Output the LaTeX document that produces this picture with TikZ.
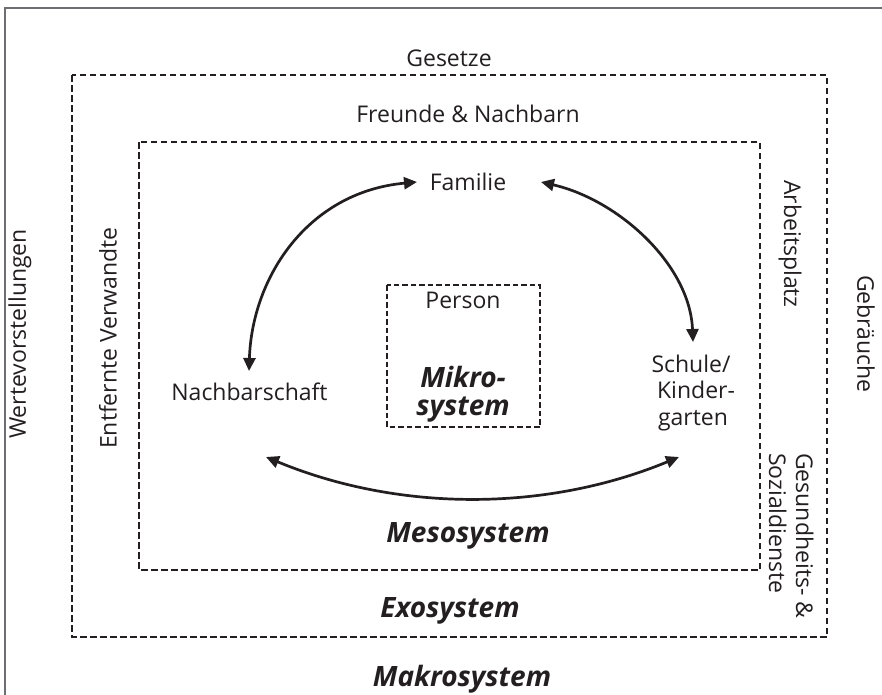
\documentclass[tikz,border=0pt]{standalone}
\usepackage{fontspec}
\setmainfont{Open Sans}
\usetikzlibrary{arrows.meta,calc}
\definecolor{ink}{HTML}{231F20}
\definecolor{framegray}{HTML}{6D6E71}
\begin{document}
\begin{tikzpicture}[x=1pt,y=-1pt,
  lbl/.style={inner sep=0pt, text=ink, font=\fontsize{23}{27}\selectfont},
  sys/.style={inner sep=0pt, text=ink, font=\fontsize{28}{30}\selectfont\bfseries\itshape},
  bigbox/.style={draw=ink, line width=2.1pt, dash pattern=on 6.5pt off 3.5pt},
  smallbox/.style={draw=ink, line width=1.7pt, dash pattern=on 5.5pt off 3pt},
  arr/.style={draw=ink, line width=2.7pt, {Triangle[length=13pt,width=12pt]}-{Triangle[length=13pt,width=12pt]}},
]
\useasboundingbox (0,0) rectangle (882,694);
\fill[white] (0,0) rectangle (882,694);
\draw[framegray, line width=1.6pt] (5,700) -- (5,8) -- (890,8);
% nested system boxes
\draw[bigbox] (72,75) rectangle (827,637);
\draw[bigbox] (139,142) rectangle (760,570);
\draw[smallbox] (387,285) rectangle (540,427);
% labels
\node[lbl, anchor=base] (gesetze) at (449,66) {Gesetze};
\node[lbl, anchor=base] (freunde) at (468,122) {Freunde \& Nachbarn};
\node[lbl, anchor=base] (fam) at (468,190) {Familie};
\node[lbl, anchor=base] (person) at (463,308) {Person};
\node[sys, anchor=base] (mikro1) at (463,387) {Mikro-};
\node[sys, anchor=base] (mikro2) at (463,415) {system};
\node[lbl, anchor=base] (nach) at (249.5,400) {Nachbarschaft};
\node[lbl, anchor=base] (schule) at (691,372) {Schule/};
\node[lbl, anchor=base] (kinder) at (696,398) {Kinder-};
\node[lbl, anchor=base] (garten) at (693,425) {garten};
\node[sys, anchor=base] (meso) at (468,542) {Mesosystem};
\node[sys, anchor=base] (exo) at (450,617) {Exosystem};
\node[sys, anchor=base] (makro) at (462,686) {Makrosystem};
\node[lbl, rotate=90] (werte) at (20,334) {Wertevorstellungen};
\node[lbl, rotate=90] (entf) at (108,338) {Entfernte Verwandte};
\node[lbl, rotate=-90] (arbeit) at (790,244) {Arbeitsplatz};
\node[lbl, rotate=-90] (gebr) at (866,334) {Gebräuche};
\node[lbl, rotate=-90, anchor=base west] (ges1) at (796,453) {Gesundheits- \&};
\node[lbl, rotate=-90, anchor=base west] (ges2) at (769,453) {Sozialdienste};
% connectors
\draw[arr] ($(nach.base)+(-0.5,-29)$) .. controls ($(nach.base)+(2.5,-123)$) and ($(fam.base)+(-160,2)$) .. ($(fam.base)+(-51,-8)$);
\draw[arr] ($(fam.base)+(73,-8)$) .. controls ($(fam.base)+(151,10)$) and ($(schule.base)+(-1,-107)$) .. ($(schule.base)+(2,-30)$);
\draw[arr] ($(nach.base)+(16.5,57)$) .. controls ($(nach.base)+(149.5,112)$) and ($(schule.base)+(-145,140)$) .. ($(schule.base)+(-12,85)$);
\end{tikzpicture}
\end{document}
